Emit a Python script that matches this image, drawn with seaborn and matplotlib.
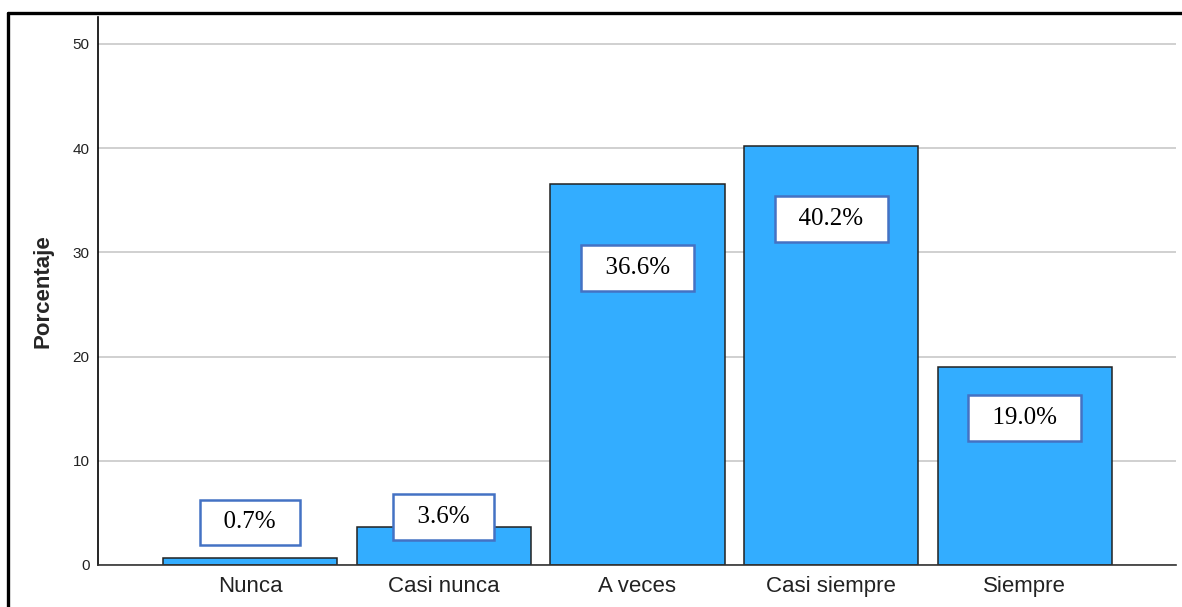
import matplotlib.pyplot as plt
import matplotlib.lines as mlines
import pandas as pd
import seaborn as sns

categories = ['Nunca', 'Casi nunca', 'A veces', 'Casi siempre', 'Siempre']
porcentaje = [0.7, 3.6, 36.6, 40.2, 19.0]
etiquetas = ['0.7%', '3.6%', '36.6%', '40.2%', '19.0%']
# vertical placement of the value boxes (data units)
label_y = [4.1, 4.6, 28.5, 33.2, 14.1]

df = pd.DataFrame({'Categoria': categories, 'Porcentaje': porcentaje})

sns.set_style('white')
plt.rcParams['font.family'] = ['Liberation Sans', 'DejaVu Sans']

fig = plt.figure(figsize=(11.82, 6.07), dpi=100)
ax = fig.add_axes([0.0829, 0.0692, 0.912, 0.903])

ax.yaxis.grid(True, color='#c8c8c8', linewidth=1.2, zorder=0)
ax.set_axisbelow(True)

sns.barplot(x='Categoria', y='Porcentaje', data=df, color='#33adff',
            saturation=1, width=0.9, edgecolor='#222222', linewidth=1.1, ax=ax)

for i, (y, txt) in enumerate(zip(label_y, etiquetas)):
    ax.text(i, y, '  ' + txt + '  ', ha='center', va='center',
            fontsize=18, family=['Liberation Serif', 'DejaVu Serif'], color='black',
            bbox=dict(boxstyle='square,pad=0.47', facecolor='white',
                      edgecolor='#4472c4', linewidth=1.8), zorder=5)

ax.set_xlim(-0.785, 4.78)
ax.set_ylim(0, 52.6)
ax.set_yticks([0, 10, 20, 30, 40, 50])
ax.set_xlabel('')
ax.set_ylabel('Porcentaje', fontsize=16, fontweight='bold', labelpad=14)
ax.tick_params(axis='y', labelsize=11, length=0, pad=6, labelcolor='#222222')
ax.tick_params(axis='x', labelsize=16, length=0, pad=8, labelcolor='#222222')

for side in ['top', 'right']:
    ax.spines[side].set_visible(False)
ax.spines['left'].set_color('black')
ax.spines['left'].set_linewidth(1.2)
ax.spines['bottom'].set_color('#333333')
ax.spines['bottom'].set_linewidth(1.2)

# outer frame (left and top edges visible in the original)
fig.add_artist(mlines.Line2D([7.5 / 1182, 7.5 / 1182], [0, 1 - 13 / 607],
                             transform=fig.transFigure, color='black', linewidth=2.4))
fig.add_artist(mlines.Line2D([7.5 / 1182, 1], [1 - 13 / 607, 1 - 13 / 607],
                             transform=fig.transFigure, color='black', linewidth=2.4))

plt.savefig('out.png', dpi=100)
plt.close()
